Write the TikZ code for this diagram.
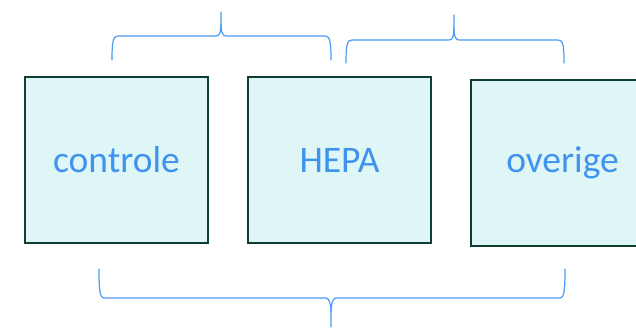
\documentclass[tikz,border=0pt]{standalone}
\usepackage{fontspec}
\setmainfont{Carlito}
\definecolor{boxfill}{HTML}{DEF6F6}
\definecolor{boxline}{HTML}{0F3D2F}
\definecolor{txtblue}{HTML}{3F93EE}
\definecolor{braceblue}{HTML}{4A9BF5}
\tikzset{
  stagebox/.style={draw=boxline, line width=2.9pt, fill=boxfill, minimum width=183pt, minimum height=166pt, inner sep=0pt, text=txtblue, font=\fontsize{37.5}{42}\selectfont},
  bracestyle/.style={draw=braceblue, line width=1.2pt, line cap=round}
}
\begin{document}
\begin{tikzpicture}[x=1pt,y=-1pt]
\clip (0,0) rectangle (636,327);
\fill[white] (0,0) rectangle (636,327);
\node[stagebox] (controle) at (116.5,160) {controle};
\node[stagebox] (hepa) at (339.5,160) {HEPA};
\node[stagebox] (overige) at (562.5,163) {overige};
% top-left brace
\draw[bracestyle] (112,60) .. controls (112,42) and (113,36) .. (118,36) -- (216,36) .. controls (220,36) and (221,31) .. (221,24) -- (221,12);
\draw[bracestyle] (331,60) .. controls (331,42) and (330,36) .. (325,36) -- (226,36) .. controls (222,36) and (221,31) .. (221,24);
% top-right brace
\draw[bracestyle] (346,63) .. controls (346,45) and (347,40) .. (352,40) -- (449,40) .. controls (453,40) and (454,35) .. (454,28) -- (454,15);
\draw[bracestyle] (564,63) .. controls (564,45) and (563,40) .. (558,40) -- (459,40) .. controls (455,40) and (454,35) .. (454,28);
% bottom brace
\draw[bracestyle] (99,269) .. controls (99,291) and (100,298) .. (104,298) -- (326,298) .. controls (329,298) and (331,304) .. (331,312) -- (331,327);
\draw[bracestyle] (565,269) .. controls (565,291) and (564,298) .. (560,298) -- (336,298) .. controls (333,298) and (331,304) .. (331,312);
\end{tikzpicture}
\end{document}
